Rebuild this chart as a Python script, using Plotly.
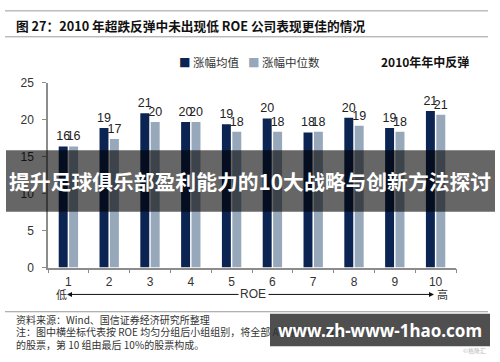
import plotly.graph_objects as go

categories = ["1", "2", "3", "4", "5", "6", "7", "8", "9", "10"]
mean_vals = [16.4, 18.9, 20.9, 19.7, 19.4, 20.2, 18.3, 20.3, 18.9, 21.2]
median_vals = [16.4, 17.4, 19.7, 19.7, 18.4, 18.4, 18.4, 19.2, 18.4, 20.7]
series_names = ["涨幅均值", "涨幅中位数"]
y_ticks = [0, 5, 10, 15, 20, 25]

W, H = 500, 362
def px(x):
    return x / W
def py(y):
    return 1 - y / H

DARK = "#0b2452"
LIGHT = "#97a8ba"
CJK = "Noto Sans CJK SC"
LAT = "Liberation Sans, Arial, sans-serif"

fig = go.Figure()
for name, vals, col in [(series_names[0], mean_vals, DARK), (series_names[1], median_vals, LIGHT)]:
    fig.add_trace(go.Bar(
        x=categories, y=vals, name=name, marker=dict(color=col, line=dict(width=0)),
        texttemplate="%{y:.0f}", textposition="outside", constraintext="none",
        cliponaxis=False, textfont=dict(family=LAT, size=12.5, color="#222"),
        showlegend=False,
    ))

fig.update_layout(
    width=W, height=H, margin=dict(l=0, r=0, t=0, b=0),
    paper_bgcolor="white", plot_bgcolor="white",
    barmode="group", bargap=0.49, bargroupgap=0.14,
    font=dict(family=LAT, color="#333"),
    xaxis=dict(domain=[px(48), px(456)], showgrid=False, showline=True, linecolor="#8c8c8c",
               linewidth=1.5, ticks="outside", tickson="boundaries", ticklen=4, tickcolor="#8c8c8c",
               tickfont=dict(size=12, color="#333"), ticklabelstandoff=2),
    yaxis=dict(domain=[py(271), py(79)], range=[0, 25], tickvals=y_ticks, showgrid=False,
               showline=True, linecolor="#8c8c8c", linewidth=1.5, ticks="outside", ticklen=4,
               tickcolor="#8c8c8c", tickfont=dict(size=12, color="#333"), ticklabelstandoff=6,
               zeroline=False),
)

shapes = []
for yy in [4, 31, 317]:
    shapes.append(dict(type="line", xref="paper", yref="paper", x0=px(5), x1=px(488),
                       y0=py(yy), y1=py(yy), line=dict(color="#9a9a9a", width=1)))
# banner overlay
shapes.append(dict(type="rect", xref="paper", yref="paper", x0=px(6), x1=px(495),
                   y0=py(213), y1=py(149), fillcolor="rgba(0,0,0,0.6)", line=dict(width=0)))
# watermark box
shapes.append(dict(type="rect", xref="paper", yref="paper", x0=px(270), x1=px(490),
                   y0=py(353), y1=py(319), fillcolor="rgba(70,70,70,0.95)", line=dict(width=0)))
fig.update_layout(shapes=shapes)

ann = []
def text(x, y, s, size, color="#222", family=CJK, xanchor="left", bold=False):
    if bold:
        s = "<b>" + s + "</b>"
    ann.append(dict(xref="paper", yref="paper", x=px(x), y=py(y), text=s, showarrow=False,
                    xanchor=xanchor, yanchor="middle", font=dict(size=size, color=color, family=family)))

text(14, 19, "图 27：2010 年超跌反弹中未出现低 ROE 公司表现更佳的情况", 12.7, "#111", bold=True)
text(177, 57, f"<span style='color:{DARK}'>■</span> " + series_names[0], 11.5, "#333")
text(246, 57, f"<span style='color:{LIGHT}'>■</span> " + series_names[1], 11.5, "#333")
text(379, 57, "2010年年中反弹", 12, "#111", bold=True)

# axis direction row
text(61, 299, "低", 11, "#333", xanchor="center")
text(253, 299, "ROE", 12, "#333", family=LAT, xanchor="center")
text(442, 299, "高", 11, "#333", xanchor="center")
ann.append(dict(xref="paper", yref="paper", x=px(67), y=py(299), ax=173, ay=0, text="",
                showarrow=True, arrowhead=2, arrowsize=1, arrowwidth=1, arrowcolor="#111"))
ann.append(dict(xref="paper", yref="paper", x=px(434), y=py(299), ax=-167, ay=0, text="",
                showarrow=True, arrowhead=2, arrowsize=1, arrowwidth=1, arrowcolor="#111"))

# footer
text(14, 325, "资料来源：Wind、国信证券经济研究所整理", 10, "#333")
text(14, 338, "注：图中横坐标代表按 ROE 均匀分组后小组组别，将全部 A 股按 ROE 排序", 10, "#333")
text(14, 351, "的股票，第 10 组由最后 10%的股票构成。", 10, "#333")
text(488, 357, "©格隆汇", 6, "#bbb", xanchor="right")

# overlays
text(250, 181, "提升足球俱乐部盈利能力的10大战略与创新方法探讨", 20.8, "white", xanchor="center", bold=True)
text(380, 336, "www.zh-www-1hao.com", 17, "white", family="Noto Sans", xanchor="center", bold=True)

fig.update_layout(annotations=ann)
fig.write_html("out.html", config={"displayModeBar": False},
               post_script="document.body.style.margin='0';document.body.style.overflow='hidden';")
